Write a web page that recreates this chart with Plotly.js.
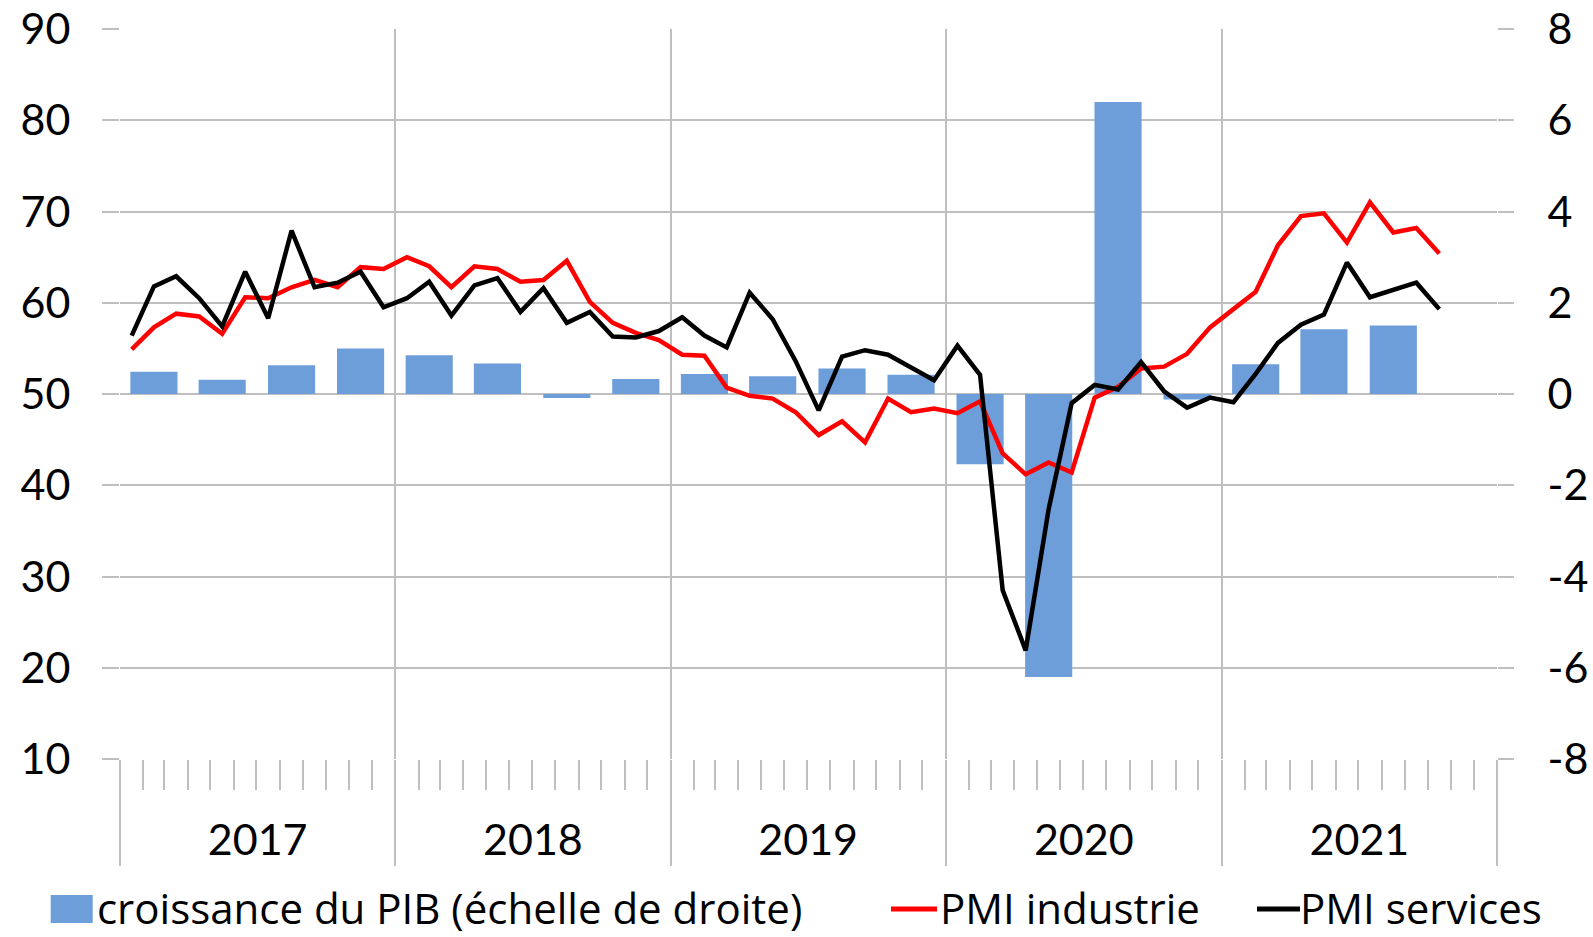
<!DOCTYPE html>
<html><head><meta charset="utf-8">
<script src="https://cdn.plot.ly/plotly-3.0.1.min.js"></script>
<style>html,body{margin:0;padding:0;background:#fff}#chart{width:1593px;height:937px}</style>
</head><body><div id="chart"></div>
<script>
const months = [
 '2017-01','2017-02','2017-03','2017-04','2017-05','2017-06','2017-07','2017-08','2017-09','2017-10','2017-11','2017-12',
 '2018-01','2018-02','2018-03','2018-04','2018-05','2018-06','2018-07','2018-08','2018-09','2018-10','2018-11','2018-12',
 '2019-01','2019-02','2019-03','2019-04','2019-05','2019-06','2019-07','2019-08','2019-09','2019-10','2019-11','2019-12',
 '2020-01','2020-02','2020-03','2020-04','2020-05','2020-06','2020-07','2020-08','2020-09','2020-10','2020-11','2020-12',
 '2021-01','2021-02','2021-03','2021-04','2021-05','2021-06','2021-07','2021-08','2021-09','2021-10'];
const pmiIndustrie = [
 54.9,57.3,58.8,58.5,56.6,60.6,60.5,61.7,62.5,61.7,63.9,63.7,
 65.0,64.0,61.7,64.0,63.7,62.3,62.5,64.6,60.1,57.8,56.7,55.9,
 54.3,54.2,50.7,49.8,49.5,48.0,45.5,47.0,44.7,49.5,48.0,48.4,
 47.9,49.2,43.5,41.2,42.5,41.4,49.6,50.8,52.8,53.0,54.4,57.3,
 59.3,61.2,66.3,69.5,69.8,66.6,71.0,67.7,68.2,65.4];
const pmiServices = [
 56.4,61.8,62.9,60.5,57.4,63.4,58.3,67.9,61.7,62.2,63.4,59.5,
 60.5,62.3,58.6,61.9,62.7,59.0,61.6,57.8,59.0,56.3,56.2,56.9,
 58.4,56.4,55.1,61.1,58.2,53.6,48.2,54.1,54.8,54.3,52.9,51.5,
 55.3,52.1,28.5,21.9,37.4,49.0,51.0,50.5,53.5,50.3,48.5,49.6,
 49.1,52.2,55.6,57.6,58.7,64.4,60.6,61.4,62.2,59.3];
const gdpQuarters = ['2017-Q1','2017-Q2','2017-Q3','2017-Q4','2018-Q1','2018-Q2','2018-Q3','2018-Q4',
 '2019-Q1','2019-Q2','2019-Q3','2019-Q4','2020-Q1','2020-Q2','2020-Q3','2020-Q4','2021-Q1','2021-Q2','2021-Q3'];
const gdpGrowth = [0.49,0.31,0.63,1.0,0.85,0.67,-0.09,0.33,0.44,0.39,0.56,0.42,-1.54,-6.2,6.4,-0.12,0.65,1.42,1.5];
const rightTickVals = [-8,-6,-4,-2,0,2,4,6,8];
const rightTickText = ['-8','-6','-4','-2','0','2','4','6','8'];
const names = ['croissance du PIB (échelle de droite)','PMI industrie','PMI services'];
const colors = ['#6d9eda','#ff0000','#000000'];

function monthMid(y, m) { // m: 1-based
  const a = Date.UTC(y, m - 1, 1), b = Date.UTC(y, m, 1);
  return new Date((a + b) / 2).toISOString().slice(0, 19).replace('T', ' ');
}
const monthX = months.map(s => { const p = s.split('-').map(Number); return monthMid(p[0], p[1]); });
const quarterX = gdpQuarters.map(s => { const y = +s.slice(0, 4), q = +s.slice(6); return monthMid(y, (q - 1) * 3 + 2); });
const DAY = 86400000;
const barWidth = 62.5 * DAY;
const grid = '#bfbfbf';

const W = 1593, H = 937, ML = 120, MR = 96, MT = 29, MB = 178;
const PW = W - ML - MR, PH = H - MT - MB;
const px2x = px => (px - ML) / PW;
const px2y = py => (H - MB - py) / PH;

const traces = [
  {type:'bar', x:quarterX, y:gdpGrowth, width:gdpGrowth.map(()=>barWidth), name:names[0],
   marker:{color:colors[0], line:{width:0}}, xaxis:'x', yaxis:'y'},
  {type:'scatter', mode:'lines', x:monthX, y:pmiIndustrie, name:names[1],
   line:{color:colors[1], width:4.5}, xaxis:'x', yaxis:'y2'},
  {type:'scatter', mode:'lines', x:monthX, y:pmiServices, name:names[2],
   line:{color:colors[2], width:4.5}, xaxis:'x', yaxis:'y2'}
];

// custom legend (symbols + real text)
const legendFont = {family:'"Open Sans", sans-serif', size:42, color:'#000'};
const legendBottom = 936;   // bottom of the text boxes
const legendY = 909;        // vertical centre of the symbols (cap-height centre)
const legendText = [{x:97, t:names[0]}, {x:940, t:names[1]}, {x:1300, t:names[2]}];
const annotations = legendText.map(o => ({
  xref:'paper', yref:'paper', x:px2x(o.x), y:px2y(legendBottom), xanchor:'left', yanchor:'bottom',
  text:o.t, showarrow:false, font:legendFont, borderpad:0, borderwidth:0
}));
const shapes = [
  {type:'rect', xref:'paper', yref:'paper', x0:px2x(50.7), x1:px2x(92.7), y0:px2y(legendY + 14), y1:px2y(legendY - 14),
   fillcolor:colors[0], line:{width:0}},
  {type:'line', xref:'paper', yref:'paper', x0:px2x(891), x1:px2x(937), y0:px2y(legendY), y1:px2y(legendY),
   line:{color:colors[1], width:5}},
  {type:'line', xref:'paper', yref:'paper', x0:px2x(1257), x1:px2x(1300), y0:px2y(legendY), y1:px2y(legendY),
   line:{color:colors[2], width:5}}
];

const layout = {
  width:W, height:H,
  margin:{l:ML, r:MR, t:MT, b:MB, pad:0},
  paper_bgcolor:'#fff', plot_bgcolor:'#fff',
  font:{family:'Lato, sans-serif', size:43, color:'#000'},
  showlegend:false,
  annotations:annotations, shapes:shapes,
  xaxis:{type:'date', range:['2017-01-01','2022-01-01'], tick0:'2017-01-01', dtick:'M12',
         tickformat:'%Y', ticklabelmode:'period', ticks:'outside', ticklen:106, tickwidth:2,
         tickcolor:grid, showgrid:true, gridcolor:grid, gridwidth:2, showline:false, zeroline:false,
         ticklabelstandoff:-63,
         minor:{dtick:'M1', tick0:'2017-01-01', ticks:'outside', ticklen:30, tickwidth:2, tickcolor:grid, showgrid:false}},
  yaxis:{side:'right', range:[-8,8], tickmode:'array', tickvals:rightTickVals, ticktext:rightTickText,
         ticks:'outside', ticklen:16, tickwidth:2, tickcolor:grid, showgrid:true, gridcolor:grid, gridwidth:2,
         zeroline:false, showline:false, ticklabelstandoff:25},
  yaxis2:{side:'left', overlaying:'y', range:[10,90], tick0:10, dtick:10,
          ticks:'outside', ticklen:17, tickwidth:2, tickcolor:grid, showgrid:false,
          zeroline:false, showline:false, ticklabelstandoff:23}
};
Plotly.newPlot('chart', traces, layout, {staticPlot:true, displayModeBar:false});
</script></body></html>
